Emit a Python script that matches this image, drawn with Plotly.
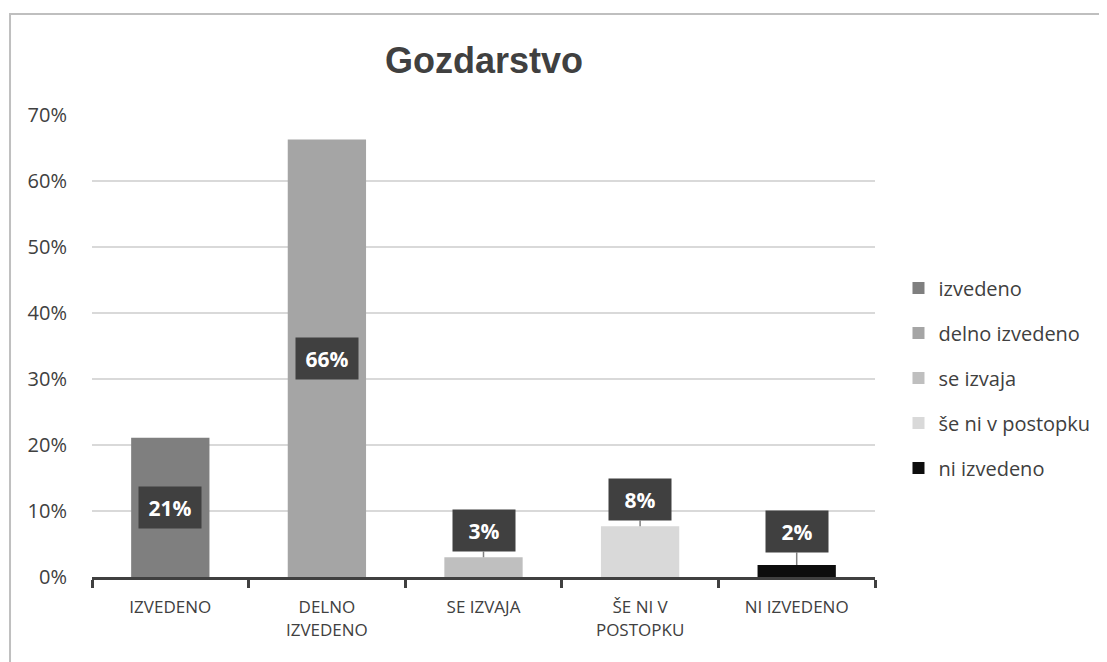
import plotly.graph_objects as go

categories = ["IZVEDENO", "DELNO<br>IZVEDENO", "SE IZVAJA", "ŠE NI V<br>POSTOPKU", "NI IZVEDENO"]
series_names = ["izvedeno", "delno izvedeno", "se izvaja", "še ni v postopku", "ni izvedeno"]
values = [0.211, 0.663, 0.030, 0.077, 0.018]
labels = ["21%", "66%", "3%", "8%", "2%"]
colors = ["#7f7f7f", "#a5a5a5", "#bfbfbf", "#d9d9d9", "#0d0d0d"]
y_ticks = [0, 0.1, 0.2, 0.3, 0.4, 0.5, 0.6, 0.7]

FONT = "Open Sans"

fig = go.Figure()
for name, cat, v, c in zip(series_names, categories, values, colors):
    fig.add_trace(go.Bar(
        x=[cat], y=[v], name=name, marker=dict(color=c, line=dict(width=0)),
        width=0.5, legendgroup=name, hoverinfo="skip",
    ))

annotations = []
for cat, v, lab in zip(categories, values, labels):
    common = dict(x=cat, text=f"<b>{lab}</b>", font=dict(family=FONT, size=21, color="white"),
                  bgcolor="#404040", borderpad=7, width=48, height=27, xref="x", yref="y")
    if v >= 0.15:
        annotations.append(dict(y=v / 2, showarrow=False, **common))
    else:
        annotations.append(dict(y=v, showarrow=True, arrowhead=0, arrowwidth=1.5,
                                arrowcolor="#808080", ax=0, ay=-34 if v < 0.025 else -27,
                                standoff=0, **common))

annotations.append(dict(text="<b>Gozdarstvo</b>", x=0.5, y=1.119, xref="paper", yref="paper",
                        yanchor="middle", showarrow=False,
                        font=dict(family="Liberation Sans", size=36, color="#404040")))

fig.update_layout(
    width=1099, height=654,
    margin=dict(l=84, r=232, t=107, b=85),
    paper_bgcolor="white", plot_bgcolor="white",
    barmode="overlay",
    showlegend=True,
    legend=dict(x=1.03, y=0.431, xanchor="left", yanchor="middle",
                font=dict(family=FONT, size=20, color="#404040"),
                tracegroupgap=16, bgcolor="rgba(0,0,0,0)", itemwidth=30),
    annotations=annotations,
    shapes=[dict(type="rect", xref="paper", yref="paper", x0=-0.1047, x1=1.5, y0=-0.4, y1=1.2186,
                 line=dict(color="#bfbfbf", width=2), fillcolor="rgba(0,0,0,0)", layer="below")],
)

fig.update_yaxes(range=[0, 0.7], tickvals=y_ticks, tickformat=".0%", showgrid=True,
                 gridcolor="#d9d9d9", gridwidth=1.5, zeroline=False, showline=False,
                 tickfont=dict(family=FONT, size=20, color="#404040"), ticks="",
                 ticklabelstandoff=24)
fig.update_xaxes(showline=True, linecolor="#404040", linewidth=3, ticks="outside",
                 tickson="boundaries", ticklen=8, tickwidth=3, tickcolor="#404040",
                 tickfont=dict(family=FONT, size=17, color="#404040"), showgrid=False,
                 ticklabelstandoff=13)

fig.write_html("out.html")
